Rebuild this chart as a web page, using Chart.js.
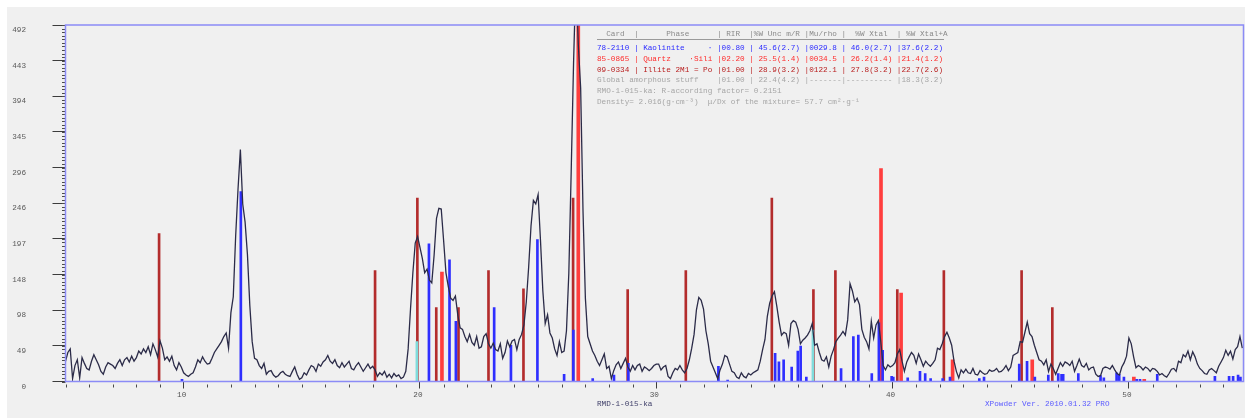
<!DOCTYPE html>
<html><head><meta charset="utf-8">
<script src="https://cdn.jsdelivr.net/npm/chart.js@4.4.1/dist/chart.umd.min.js"></script>
<style>html,body{margin:0;padding:0;background:#fff;}canvas{display:block;}</style>
</head><body>
<canvas id="c" width="1245" height="418"></canvas>
<script>
// ---- measured pattern (2theta start/step, counts) ----
const twoThetaStart = 5.0;
const twoThetaStep = 0.1;
const counts = [
28,40,45,4,22,30,5,33,25,18,
16,28,37,30,23,14,10,20,26,24,
22,18,25,30,22,30,33,27,35,28,
33,42,38,45,40,48,37,52,44,34,
56,46,30,34,28,35,22,16,26,20,
12,9,7,10,12,20,30,26,34,28,
24,25,32,40,45,50,55,62,67,46,
95,117,200,265,320,245,220,175,105,55,
32,30,22,18,25,10,14,15,9,6,
8,12,14,10,8,7,14,20,10,3,
5,12,9,16,22,20,14,24,21,27,
30,36,28,25,30,22,19,26,20,24,
28,18,16,22,26,20,14,19,24,18,
21,16,7,12,9,14,6,10,5,11,
7,9,4,6,14,45,100,150,191,200,
185,170,150,155,140,136,175,225,239,238,
195,150,131,115,112,118,92,74,72,62,
55,65,54,50,62,46,48,62,66,52,
46,53,44,42,52,32,40,56,48,56,
58,44,58,65,78,110,158,215,250,245,
258,195,125,80,92,67,60,45,36,55,
40,42,70,150,290,440,560,465,405,235,
115,62,52,42,36,28,22,30,38,18,
21,4,15,23,27,18,25,32,20,14,
22,16,22,24,14,20,18,15,18,22,
24,24,16,20,22,7,4,12,18,16,
22,16,12,18,30,46,65,99,116,112,
100,70,52,28,20,12,4,16,24,36,
34,24,14,12,6,4,12,7,5,11,
9,12,14,16,28,44,58,90,108,118,
124,104,82,64,68,66,50,80,84,82,
72,52,57,60,64,70,80,50,52,40,
30,28,34,20,35,44,55,60,64,69,
64,85,135,125,110,115,106,72,61,55,
45,83,60,78,84,55,22,16,23,20,
22,26,38,44,28,14,27,34,40,36,
25,38,30,21,28,24,21,25,30,46,
44,52,62,68,60,50,28,14,5,16,
12,17,12,11,18,10,9,15,12,10,
11,16,14,15,18,13,14,17,22,15,
20,36,38,40,55,54,68,82,66,62,
50,40,30,28,23,30,14,24,18,10,
18,26,21,27,25,22,28,14,22,31,
22,20,25,16,19,20,10,7,8,18,
20,19,17,22,16,11,9,20,26,35,
60,52,34,19,22,20,16,20,18,14,
18,17,14,9,11,8,6,11,17,18,
14,28,26,37,34,42,30,41,34,24,
18,15,11,10,16,18,15,12,21,27,
33,43,36,42,31,44,48,62,46
];

// ---- reference sticks ----
const illitePos = [8.96,18.10,19.89,20.69,21.63,22.90,24.38,26.48,28.79,31.25,34.89,36.65,37.58,40.20,42.17,45.46,46.76];
const illiteInt = [204,153,253,102,102,153,128,253,127,153,253,127,153,127,153,153,102];
const quartzPos = [20.93,26.70,39.51,40.36,42.54,45.91,50.21,50.65];
const quartzInt = [151,500,294,122,30,30,6,3];
const kaolinitePos = [9.93,12.42,20.38,21.25,21.52,23.14,23.85,24.97,26.10,26.49,27.31,28.21,28.82,32.63,33.02,35.03,35.19,35.39,35.73,35.99,36.11,36.35,37.82,38.34,38.55,39.12,39.42,39.58,39.96,40.03,40.64,41.16,41.38,41.61,42.12,42.43,43.67,43.87,45.36,45.69,46.02,46.59,47.01,47.15,47.22,47.86,48.80,48.94,49.48,49.59,49.79,50.33,50.47,51.20,53.64,54.24,54.41,54.62,54.72];
const kaoliniteInt = [3,262,190,168,83,102,50,196,10,71,4,9,25,21,2,39,27,30,20,42,49,6,18,62,64,11,81,43,7,6,5,14,11,4,4,6,4,6,24,28,6,9,11,10,10,11,8,5,12,10,6,3,3,10,7,7,7,9,6];
const otherPos = [19.87,36.63];
const otherInt = [55,71];

// ---- axes ----
const yTickValues = [0,49.2,98.4,147.6,196.8,246,295.2,344.4,393.6,442.8,492];
const yTickLabels = ['0','49','98','148','197','246','296','345','394','443','492'];
const xTickValues = [10,20,30,40,50];
const xTickLabels = ['10','20','30','40','50'];
const sampleName = 'RMD-1-015-ka';
const versionText = 'XPowder Ver. 2010.01.32 PRO';

// ---- quantification table ----
const tableHeader = '  Card  |      Phase      | RIR  |%W Unc m/R |Mu/rho |  %W Xtal  | %W Xtal+A';
const tableRows = [
  '78-2110 | Kaolinite     \u00b7 |00.80 | 45.6(2.7) |0029.8 | 46.0(2.7) |37.6(2.2)',
  '85-0865 | Quartz    \u00b7Sili |02.20 | 25.5(1.4) |0034.5 | 26.2(1.4) |21.4(1.2)',
  '09-0334 | Illite 2M1 = Po |01.00 | 28.9(3.2) |0122.1 | 27.8(3.2) |22.7(2.6)',
  'Global amorphous stuff    |01.00 | 22.4(4.2) |-------|---------- |18.3(3.2)',
  'RMO-1-015-ka: R-according factor= 0.2151',
  'Density= 2.016(g\u00b7cm\u207b\u00b3)  \u03bc/Dx of the mixture= 57.7 cm\u00b2\u00b7g\u207b\u00b9'
];
const tableColors = ['#2c2cff','#ff2c2c','#b81e1e','#a6a6a6','#a6a6a6','#a6a6a6'];

const MONO = '"Liberation Mono", "DejaVu Sans Mono", monospace';

const sticks = (pos, val) => pos.map((p, i) => ({x: p, y: val[i]}));

const decor = {
  id: 'decor',
  beforeDraw(chart) {
    const c = chart.ctx;
    c.save();
    c.fillStyle = '#ffffff';
    c.fillRect(0, 0, chart.width, chart.height);
    c.fillStyle = '#f0f0f0';
    c.fillRect(7, 7, chart.width - 7, chart.height - 7);
    c.restore();
  },
  afterDraw(chart) {
    const {ctx, chartArea: a, scales: {x, y}} = chart;
    ctx.save();
    // minor ticks
    ctx.strokeStyle = '#4a4a4a';
    ctx.lineWidth = 1;
    ctx.beginPath();
    for (let k = 0; k <= 100; k++) {
      const py = Math.round(y.getPixelForValue(k * 4.92)) + 0.5;
      ctx.moveTo(a.left - 3.5, py); ctx.lineTo(a.left, py);
    }
    for (let d = 5; d <= 54; d++) {
      if (d % 10 === 0) continue;
      const px = Math.round(x.getPixelForValue(d)) + 0.5;
      ctx.moveTo(px, a.bottom + 3); ctx.lineTo(px, a.bottom + 6);
    }
    ctx.stroke();
    // frame
    ctx.strokeStyle = '#8b8bf6';
    ctx.lineWidth = 1.5;
    ctx.strokeRect(a.left, a.top, a.width, a.height);
    // texts
    ctx.font = '7.7px ' + MONO;
    ctx.textBaseline = 'middle';
    ctx.textAlign = 'left';
    ctx.fillStyle = '#8a8a8a';
    ctx.fillText(tableHeader, 597, 34);
    ctx.strokeStyle = '#9a9a9a';
    ctx.lineWidth = 1;
    ctx.beginPath(); ctx.moveTo(597, 39.5); ctx.lineTo(944, 39.5); ctx.stroke();
    const rowY = [48.3, 59, 69.7, 80.4, 91, 101.7];
    tableRows.forEach((t, i) => { ctx.fillStyle = tableColors[i]; ctx.fillText(t, 597, rowY[i]); });
    ctx.fillStyle = '#40406a';
    ctx.fillText(sampleName, 597, 404);
    ctx.fillStyle = '#5c5cff';
    ctx.fillText(versionText, 985, 404);
    ctx.restore();
  }
};

new Chart(document.getElementById('c'), {
  type: 'line',
  data: {
    datasets: [
      { type: 'line', label: sampleName,
        data: counts.map((v, i) => ({x: +(twoThetaStart + i * twoThetaStep).toFixed(2), y: v})),
        borderColor: '#2b2b48', borderWidth: 1.3, pointRadius: 0, tension: 0, order: 0 },
      { type: 'bar', label: 'other', data: sticks(otherPos, otherInt), backgroundColor: '#7fdcdc',
        barThickness: 2, grouped: false, order: 1 },
      { type: 'bar', label: 'Kaolinite', data: sticks(kaolinitePos, kaoliniteInt), backgroundColor: '#2f2fff',
        barThickness: 2, grouped: false, order: 2 },
      { type: 'bar', label: 'Quartz', data: sticks(quartzPos, quartzInt), backgroundColor: '#ff3e3e',
        barThickness: 3, grouped: false, order: 3 },
      { type: 'bar', label: 'Illite 2M1', data: sticks(illitePos, illiteInt), backgroundColor: '#b32c2c',
        barThickness: 2, grouped: false, order: 4 }
    ]
  },
  options: {
    responsive: false, animation: false, devicePixelRatio: 1,
    layout: { padding: { top: 25, right: 1.5, bottom: 0, left: 0 }, autoPadding: false },
    plugins: { legend: { display: false }, tooltip: { enabled: false } },
    scales: {
      x: {
        type: 'linear', min: 5, max: 54.85, offset: false,
        afterBuildTicks: s => { s.ticks = xTickValues.map(v => ({value: v})); },
        afterFit: s => { s.height = 36.5; s.paddingLeft = 0; s.paddingRight = 0; s.paddingTop = 0; s.paddingBottom = 0; },
        grid: { display: true, drawOnChartArea: false, drawTicks: true, tickLength: 7, tickColor: '#3c3c3c', tickWidth: 1, offset: false },
        border: { display: false },
        ticks: { autoSkip: false, maxRotation: 0, padding: 2, labelOffset: -2,
          callback: (v, i) => xTickLabels[i], color: '#555555', font: { family: MONO, size: 7.7 } }
      },
      y: {
        min: 0, max: 492,
        afterBuildTicks: s => { s.ticks = yTickValues.map(v => ({value: v})); },
        afterFit: s => { s.width = 65.5; s.paddingLeft = 0; s.paddingRight = 0; s.paddingTop = 0; s.paddingBottom = 0; },
        grid: { display: true, drawOnChartArea: false, drawTicks: true, tickLength: 13, tickColor: '#3c3c3c', tickWidth: 1 },
        border: { display: false },
        ticks: { autoSkip: false, padding: 26.5, labelOffset: 5,
          callback: (v, i) => yTickLabels[i], color: '#5a5a5a', font: { family: MONO, size: 7.7 } }
      }
    }
  },
  plugins: [decor]
});
</script>
</body></html>
